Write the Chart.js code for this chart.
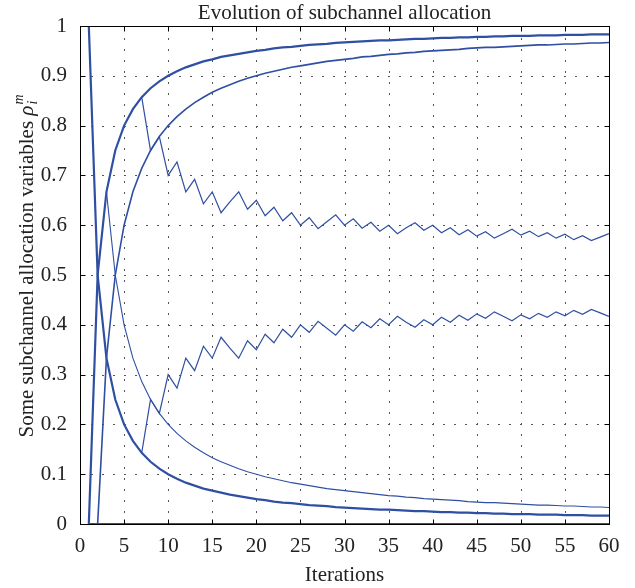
<!DOCTYPE html>
<html><head><meta charset="utf-8">
<script src="https://cdn.jsdelivr.net/npm/chart.js@4/dist/chart.umd.min.js"></script>
<style>html,body{margin:0;padding:0;background:#fff;}#wrap{width:635px;height:588px;}</style>
</head><body><div id="wrap"><canvas id="c" width="635" height="588"></canvas></div>
<script>
const iterations = [1,2,3,4,5,6,7,8,9,10,11,12,13,14,15,16,17,18,19,20,21,22,23,24,25,26,27,28,29,30,31,32,33,34,35,36,37,38,39,40,41,42,43,44,45,46,47,48,49,50,51,52,53,54,55,56,57,58,59,60];
const xTicks = [0,5,10,15,20,25,30,35,40,45,50,55,60];
const yTicks = [0,0.1,0.2,0.3,0.4,0.5,0.6,0.7,0.8,0.9,1];

const rhoHigh = [0,0.5,0.667,0.75,0.8,0.833,0.857,0.875,0.889,0.9,0.909,0.917,0.923,0.929,0.933,0.938,0.941,0.944,0.947,0.95,0.952,0.955,0.957,0.958,0.96,0.962,0.963,0.964,0.966,0.967,0.968,0.969,0.97,0.971,0.971,0.972,0.973,0.974,0.974,0.975,0.976,0.976,0.977,0.977,0.978,0.978,0.979,0.979,0.98,0.98,0.98,0.981,0.981,0.981,0.982,0.982,0.982,0.983,0.983,0.983];
const rhoLow = [1,0.5,0.333,0.25,0.2,0.167,0.143,0.125,0.111,0.1,0.091,0.083,0.077,0.071,0.067,0.063,0.059,0.056,0.053,0.05,0.048,0.045,0.043,0.042,0.04,0.038,0.037,0.036,0.034,0.033,0.032,0.031,0.03,0.029,0.029,0.028,0.027,0.026,0.026,0.025,0.024,0.024,0.023,0.023,0.022,0.022,0.021,0.021,0.02,0.02,0.02,0.019,0.019,0.019,0.018,0.018,0.018,0.017,0.017,0.017];
const rhoMid = [null,0,0.333,0.5,0.6,0.667,0.714,0.75,0.778,0.8,0.818,0.833,0.846,0.857,0.867,0.875,0.882,0.889,0.895,0.9,0.905,0.909,0.913,0.917,0.92,0.923,0.926,0.929,0.931,0.933,0.935,0.938,0.939,0.941,0.943,0.944,0.946,0.947,0.949,0.95,0.951,0.952,0.953,0.955,0.956,0.957,0.957,0.958,0.959,0.96,0.961,0.962,0.962,0.963,0.964,0.964,0.965,0.966,0.966,0.967];
const rhoThin = [null,null,0.667,0.5,0.4,0.333,0.286,0.25,0.222,0.2,0.182,0.167,0.154,0.143,0.133,0.125,0.118,0.111,0.105,0.1,0.095,0.091,0.087,0.083,0.08,0.077,0.074,0.071,0.069,0.067,0.065,0.063,0.061,0.059,0.057,0.056,0.054,0.053,0.051,0.05,0.049,0.048,0.047,0.045,0.044,0.043,0.043,0.042,0.041,0.04,0.039,0.038,0.038,0.037,0.036,0.036,0.035,0.034,0.034,0.033];
const rhoZigUp = [null,null,null,null,null,null,0.857,0.75,0.778,0.7,0.727,0.667,0.692,0.643,0.667,0.625,0.647,0.667,0.632,0.65,0.619,0.636,0.609,0.625,0.6,0.615,0.593,0.607,0.621,0.6,0.613,0.594,0.606,0.588,0.6,0.583,0.595,0.605,0.59,0.6,0.585,0.595,0.581,0.591,0.578,0.587,0.574,0.583,0.592,0.58,0.588,0.577,0.585,0.574,0.582,0.571,0.579,0.569,0.576,0.583];
const rhoZigDown = [null,null,null,null,null,null,0.143,0.25,0.222,0.3,0.273,0.333,0.308,0.357,0.333,0.375,0.353,0.333,0.368,0.35,0.381,0.364,0.391,0.375,0.4,0.385,0.407,0.393,0.379,0.4,0.387,0.406,0.394,0.412,0.4,0.417,0.405,0.395,0.41,0.4,0.415,0.405,0.419,0.409,0.422,0.413,0.426,0.417,0.408,0.42,0.412,0.423,0.415,0.426,0.418,0.429,0.421,0.431,0.424,0.417];
const rhoZero = [0,0,0,0,0,0,0,0,0,0,0,0,0,0,0,0,0,0,0,0,0,0,0,0,0,0,0,0,0,0,0,0,0,0,0,0,0,0,0,0,0,0,0,0,0,0,0,0,0,0,0,0,0,0,0,0,0,0,0,0];

const titleText = 'Evolution of subchannel allocation';
const xTitle = 'Iterations';
const yTitle = 'Some subchannel allocation variables ';

const BLUE = '#2f4fa2';
const FONT = '"Liberation Serif", "DejaVu Serif", serif';
const FS = 21;
const pts = arr => iterations.map((x, i) => ({x: x, y: arr[i]}));
const ds = (arr, w) => ({data: pts(arr), borderColor: BLUE, borderWidth: w, pointRadius: 0, tension: 0, fill: false, spanGaps: false});

const decor = {
  id: 'decor',
  beforeDatasetsDraw(chart) {
    const {ctx, chartArea: a, scales: {x, y}} = chart;
    ctx.save();
    ctx.strokeStyle = '#555';
    ctx.lineWidth = 1;
    ctx.setLineDash([2, 9]);
    xTicks.forEach(t => {
      if (t === 0 || t === 60) return;
      const px = Math.round(x.getPixelForValue(t)) + 0.5;
      ctx.beginPath(); ctx.moveTo(px, a.bottom); ctx.lineTo(px, a.top); ctx.stroke();
    });
    yTicks.forEach(t => {
      if (t === 0 || t === 1) return;
      const py = Math.round(y.getPixelForValue(t)) + 0.5;
      ctx.beginPath(); ctx.moveTo(a.left, py); ctx.lineTo(a.right, py); ctx.stroke();
    });
    ctx.restore();
  },
  afterDraw(chart) {
    const {ctx, chartArea: a, scales: {x, y}} = chart;
    ctx.save();
    ctx.strokeStyle = '#000';
    ctx.lineWidth = 1;
    ctx.setLineDash([]);
    const L = Math.round(a.left) + 0.5, R = Math.round(a.right) + 0.5, T = Math.round(a.top) + 0.5, B = Math.round(a.bottom) + 0.5;
    ctx.strokeRect(L, T, R - L, B - T);
    const tl = 5;
    ctx.beginPath();
    xTicks.forEach(t => {
      const px = Math.round(x.getPixelForValue(t)) + 0.5;
      ctx.moveTo(px, B); ctx.lineTo(px, B - tl);
      ctx.moveTo(px, T); ctx.lineTo(px, T + tl);
    });
    yTicks.forEach(t => {
      const py = Math.round(y.getPixelForValue(t)) + 0.5;
      ctx.moveTo(L, py); ctx.lineTo(L + tl, py);
      ctx.moveTo(R, py); ctx.lineTo(R - tl, py);
    });
    ctx.stroke();

    ctx.fillStyle = '#222';
    ctx.textAlign = 'center';
    ctx.textBaseline = 'alphabetic';
    ctx.font = FS + 'px ' + FONT;
    ctx.fillText(titleText, (a.left + a.right) / 2, 19);
    ctx.fillText(xTitle, (a.left + a.right) / 2, 581);

    // rotated y title with italic rho, subscript i, superscript m
    ctx.translate(33, 266);
    ctx.rotate(-Math.PI / 2);
    ctx.textAlign = 'left';
    ctx.font = FS + 'px ' + FONT;
    const w1 = ctx.measureText(yTitle).width;
    ctx.font = 'italic ' + FS + 'px ' + FONT;
    const w2 = ctx.measureText('\u03C1').width;
    ctx.font = 'italic 14px ' + FONT;
    const w3 = Math.max(ctx.measureText('i').width, ctx.measureText('m').width);
    let sx = -(w1 + w2 + w3 + 1) / 2;
    ctx.font = FS + 'px ' + FONT;
    ctx.fillText(yTitle, sx, 0);
    sx += w1;
    ctx.font = 'italic ' + FS + 'px ' + FONT;
    ctx.fillText('\u03C1', sx, 0);
    sx += w2 + 1;
    ctx.font = 'italic 14px ' + FONT;
    ctx.fillText('i', sx, 4);
    ctx.fillText('m', sx, -10);
    ctx.restore();
  }
};

new Chart(document.getElementById('c'), {
  type: 'line',
  data: {
    datasets: [
      ds(rhoZero, 2.2),
      ds(rhoHigh, 2.2),
      ds(rhoLow, 2.2),
      ds(rhoMid, 1.6),
      ds(rhoThin, 1.1),
      ds(rhoZigUp, 1.2),
      ds(rhoZigDown, 1.2)
    ]
  },
  options: {
    responsive: false,
    animation: false,
    devicePixelRatio: 1,
    layout: {padding: {left: 0, top: 26, right: 26, bottom: 0}},
    plugins: {legend: {display: false}, tooltip: {enabled: false}, title: {display: false}},
    scales: {
      x: {
        type: 'linear', min: 0, max: 60,
        afterFit: s => { s.height = 64; },
        afterBuildTicks: s => { s.ticks = xTicks.map(v => ({value: v})); },
        grid: {display: false, drawTicks: false},
        border: {display: false},
        ticks: {color: '#222', padding: 10, font: {family: FONT, size: FS}, maxRotation: 0, autoSkip: false}
      },
      y: {
        type: 'linear', min: 0, max: 1,
        afterFit: s => { s.width = 80; },
        afterBuildTicks: s => { s.ticks = yTicks.map(v => ({value: v})); },
        grid: {display: false, drawTicks: false},
        border: {display: false},
        ticks: {color: '#222', padding: 13, font: {family: FONT, size: FS}, autoSkip: false,
          callback: v => String(v)}
      }
    }
  },
  plugins: [decor]
});
</script></body></html>
